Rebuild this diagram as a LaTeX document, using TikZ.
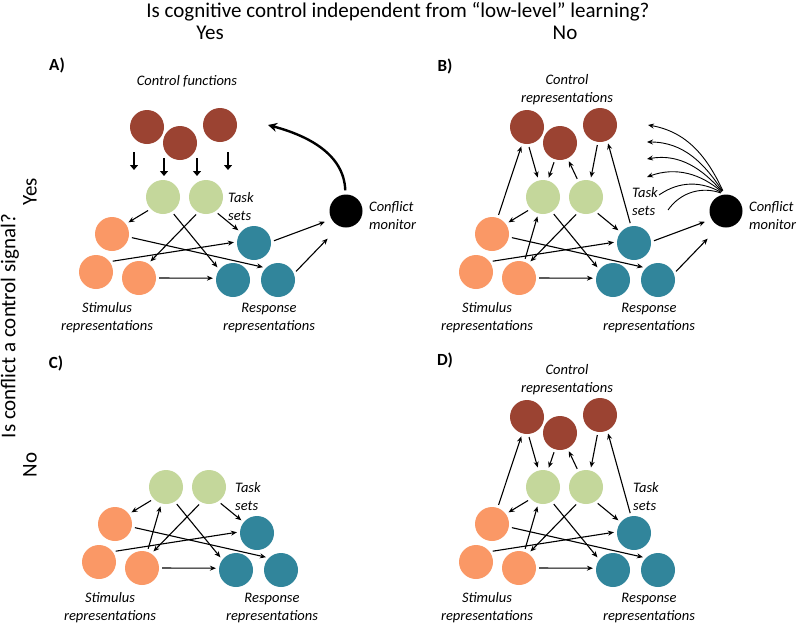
\documentclass[tikz,border=0pt]{standalone}
\usepackage{fontspec}
\setmainfont{Carlito}
\usetikzlibrary{arrows.meta, positioning}
\definecolor{ctrlcolor}{RGB}{155,67,50}
\definecolor{taskcolor}{RGB}{196,215,155}
\definecolor{stimcolor}{RGB}{250,152,102}
\definecolor{respcolor}{RGB}{49,133,155}

% stimulus, task-set and response layers (same in every panel)
\newcommand{\lowlevel}{%
    \node[stim] (s1) at (112,-234) {};
    \node[stim] (s2) at (96,-272) {};
    \node[stim] (s3) at (139,-278) {};
    \node[task] (t1) at (163,-197) {};
    \node[task] (t2) at (206,-197) {};
    \node[resp] (r1) at (254,-243) {};
    \node[resp] (r2) at (233,-280) {};
    \node[resp] (r3) at (278,-280) {};
    \node[grouptext] (stimtext) at (107,-318) {Stimulus\\representations};
    \node[grouptext] (resptext) at (269,-318) {Response\\representations};
    \draw[link] (t1.224) -- (s1.36);
    \draw[link] (t1.301) -- (r2.143);
    \draw[link] (t2.243) -- (s3.57);
    \draw[link] (t2.303) -- (r1.141);
    \draw[link] (s1.350) -- (r3.135);
    \draw[link] (s2.37) -- (r1.176);
    \draw[link] (s3.0) -- (r2.174);
}
% control layer
\newcommand{\controlnodes}{%
    \node[ctrl] (c1) at (147,-127) {};
    \node[ctrl] (c2) at (180,-143) {};
    \node[ctrl] (c3) at (220,-125) {};
}
\newcommand{\controlarrows}{%
    \draw[link] (s1.71) -- (c1.254);
    \draw[link] (c1.274) -- (t1.105);
    \draw[link] (c2.253) -- (t1.74);
    \draw[link] (t2.116) -- (c2.296);
    \draw[link] (c3.263) -- (t2.75);
    \draw[link] (r1.100) -- (c3.295);
}
% conflict monitor
\newcommand{\conflictpart}{%
    \node[monitor] (m) at (346,-211) {};
    \node[grouptext, anchor=west, align=left] (mtext) at (368,-216) {Conflict\\monitor};
    \draw[link, shorten >=7pt] (r1.4) -- (m.210);
    \draw[link, shorten >=17pt] (r3.22) -- (m.247);
}

\begin{document}
\begin{tikzpicture}[
    x=1pt, y=1pt,
    dot/.style={circle, minimum size=34pt, inner sep=0pt},
    ctrl/.style={dot, fill=ctrlcolor},
    task/.style={dot, fill=taskcolor},
    stim/.style={dot, fill=stimcolor},
    resp/.style={dot, fill=respcolor},
    monitor/.style={dot, fill=black, minimum size=33pt},
    link/.style={-{Stealth[length=6pt, width=5pt]}, line width=1.1pt, shorten <=3pt, shorten >=3pt},
    push/.style={-{Triangle[length=5pt, width=8pt]}, line width=2.6pt},
    feedback/.style={-{Stealth[length=9pt, width=9pt]}, line width=2.4pt},
    fan/.style={line width=0.9pt},
    grouptext/.style={font=\fontsize{14.5}{18}\selectfont\itshape, align=center, inner sep=1pt},
    panel/.style={font=\fontsize{17}{20}\selectfont\bfseries},
    heading/.style={font=\fontsize{21}{24}\selectfont}
]
    \useasboundingbox (0,0) rectangle (800,-624);

    % Headings
    \node[heading] (question) at (398,-12) {Is cognitive control independent from “low-level” learning?};
    \node[heading] (yescol) at (210,-33) {Yes};
    \node[heading] (nocol) at (565,-33) {No};
    \node[heading, rotate=90] (rowquestion) at (10,-326) {Is conflict a control signal?};
    \node[heading, rotate=90] (yesrow) at (30,-192) {Yes};
    \node[heading, rotate=90] (norow) at (30,-465) {No};

    \node[panel] (pa) at (57,-65) {A)};
    \node[panel] (pb) at (445,-66) {B)};
    \node[panel] (pc) at (56,-363) {C)};
    \node[panel] (pd) at (445,-360) {D)};

    % A) control functions + conflict monitor
    \begin{scope}[name prefix=a-]
        \lowlevel
        \controlnodes
        \conflictpart
        \node[grouptext] (ctrltext) at (187,-81) {Control functions};
        \node[grouptext, anchor=west, align=left] (tasktext) at (227,-207) {Task\\sets};
        \foreach \px/\py in {134/152, 164/158, 197/158, 228/152}
            \draw[push] (\px,-\py) -- ++(0,-18);
        \coordinate (back) at (268,-125);
        \draw[feedback, shorten <=4pt] (m.92) to[out=92, in=-15] (back);
    \end{scope}

    % B) control representations + conflict monitor
    \begin{scope}[shift={(380,0)}, name prefix=b-]
        \lowlevel
        \controlnodes
        \controlarrows
        \draw[link] (s3.72) -- (t1.254);
        \conflictpart
        \node[grouptext] (ctrltext) at (187,-89.5) {Control\\representations};
        \node[grouptext, anchor=west, align=left] (tasktext) at (251,-202) {Task\\sets};
        \foreach \fx/\fy/\fout/\fin [count=\k] in {268/125/115/-10, 267/142/123/0, 267/159/131/10, 267/177/139/20} {
            \coordinate (f\k) at (\fx,-\fy);
            \draw[fan, -{Stealth[length=6pt, width=5pt]}, shorten <=4pt] (m.95) to[out=\fout, in=\fin] (f\k);
        }
        \foreach \fx/\fy/\fout/\fin [count=\k from 5] in {279/195/150/35, 288/210/160/55} {
            \coordinate (f\k) at (\fx,-\fy);
            \draw[fan, shorten <=4pt] (m.95) to[out=\fout, in=\fin] (f\k);
        }
    \end{scope}

    % C) task sets only
    \begin{scope}[shift={(3,-290)}, name prefix=c-]
        \lowlevel
        \draw[link] (s3.72) -- (t1.254);
        \node[grouptext, anchor=west, align=left] (tasktext) at (231,-207) {Task\\sets};
    \end{scope}

    % D) control representations, no monitor
    \begin{scope}[shift={(380,-290)}, name prefix=d-]
        \lowlevel
        \controlnodes
        \controlarrows
        \draw[link] (s3.72) -- (t1.254);
        \node[grouptext] (ctrltext) at (187,-89.5) {Control\\representations};
        \node[grouptext, anchor=west, align=left] (tasktext) at (252,-207) {Task\\sets};
    \end{scope}

\end{tikzpicture}
\end{document}
